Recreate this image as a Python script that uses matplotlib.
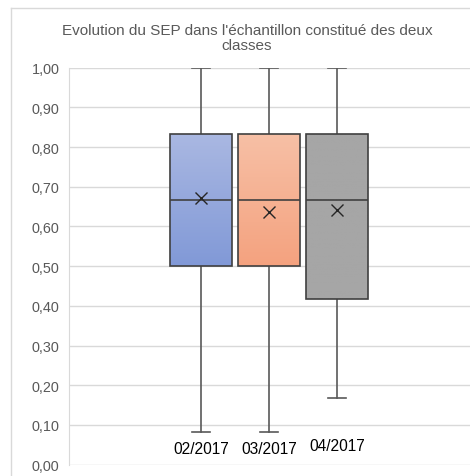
import numpy as np
import matplotlib.pyplot as plt
from matplotlib.colors import LinearSegmentedColormap
from matplotlib.lines import Line2D
from matplotlib.ticker import FuncFormatter

# Statistiques du SEP par période
periodes = ["02/2017", "03/2017", "04/2017"]
minimum = [0.083, 0.083, 0.167]
q1 = [0.500, 0.500, 0.417]
mediane = [0.667, 0.667, 0.667]
q3 = [0.833, 0.833, 0.833]
maximum = [1.000, 1.000, 1.000]
moyenne = [0.671, 0.636, 0.642]

# dégradés des boîtes (haut, bas)
couleurs = [("#aab8e2", "#8199d7"), ("#f7c0a6", "#f4a27f"), ("#a6a6a6", "#a6a6a6")]
GRIS_TEXTE = "#595959"
GRIS_TRAIT = "#404040"
GRIS_GRILLE = "#d9d9d9"

plt.rcParams["font.family"] = ["Liberation Sans", "DejaVu Sans"]

fig = plt.figure(figsize=(4.70, 4.77), dpi=100)
ax = fig.add_axes([69 / 470, 11.4 / 477, 1 - 69 / 470, 397 / 477])

positions = [1, 2, 3]
stats = [
    dict(med=m, q1=a, q3=b, whislo=lo, whishi=hi, mean=mu, label=p)
    for p, lo, a, m, b, hi, mu in zip(periodes, minimum, q1, mediane, q3, maximum, moyenne)
]

bp = ax.bxp(
    stats,
    positions=positions,
    widths=0.91,
    showmeans=True,
    showfliers=False,
    patch_artist=True,
    boxprops=dict(facecolor="none", edgecolor=GRIS_TRAIT, linewidth=1.2, zorder=4),
    medianprops=dict(color=GRIS_TRAIT, linewidth=1.2, zorder=5),
    whiskerprops=dict(color=GRIS_TEXTE, linewidth=1.2, zorder=3),
    capprops=dict(color=GRIS_TEXTE, linewidth=1.2, zorder=3),
    capwidths=0.27,
    meanprops=dict(marker="x", markersize=9, markeredgecolor="#262626",
                   markeredgewidth=1.0, zorder=6),
)

# remplissage en dégradé vertical, découpé sur chaque boîte
for box, (haut, bas) in zip(bp["boxes"], couleurs):
    ext = box.get_path().get_extents()
    cmap = LinearSegmentedColormap.from_list("grad", [bas, haut])
    grad = np.linspace(0, 1, 256).reshape(-1, 1)
    img = ax.imshow(grad, cmap=cmap, origin="lower", aspect="auto",
                    extent=[ext.x0, ext.x1, ext.y0, ext.y1], zorder=3.5)
    img.set_clip_path(box)

# étiquettes des périodes dans la zone de tracé
for x, label, dy in zip(positions, periodes, [0.040, 0.040, 0.047]):
    ax.text(x, dy, label, ha="center", va="center", fontsize=11.2, color="black")

ax.set_xlim(1 - 132 / 68, 3 + 133 / 68)
ax.set_ylim(0, 1)
ax.set_yticks(np.arange(0, 1.01, 0.1))
ax.yaxis.set_major_formatter(FuncFormatter(lambda v, _: f"{v:.2f}".replace(".", ",")))
ax.set_xticks([])
ax.tick_params(axis="y", length=0, pad=7, labelsize=10.4, labelcolor=GRIS_TEXTE)
ax.grid(axis="y", color=GRIS_GRILLE, linewidth=1)
ax.set_axisbelow(True)
for side in ["top", "right", "bottom"]:
    ax.spines[side].set_visible(False)
ax.spines["left"].set_color(GRIS_GRILLE)

fig.text(247 / 470, 1 - 38.5 / 477,
         "Evolution du SEP dans l'échantillon constitué des deux\nclasses",
         ha="center", va="center", fontsize=11, color=GRIS_TEXTE, linespacing=1.15)

# cadre du graphique (bords gauche et haut)
fig.add_artist(Line2D([11 / 470, 11 / 470], [0, 1 - 9 / 477],
                      transform=fig.transFigure, color=GRIS_GRILLE, linewidth=1))
fig.add_artist(Line2D([11 / 470, 1], [1 - 9 / 477, 1 - 9 / 477],
                      transform=fig.transFigure, color=GRIS_GRILLE, linewidth=1))

fig.savefig("out.png", dpi=100)
plt.close(fig)
